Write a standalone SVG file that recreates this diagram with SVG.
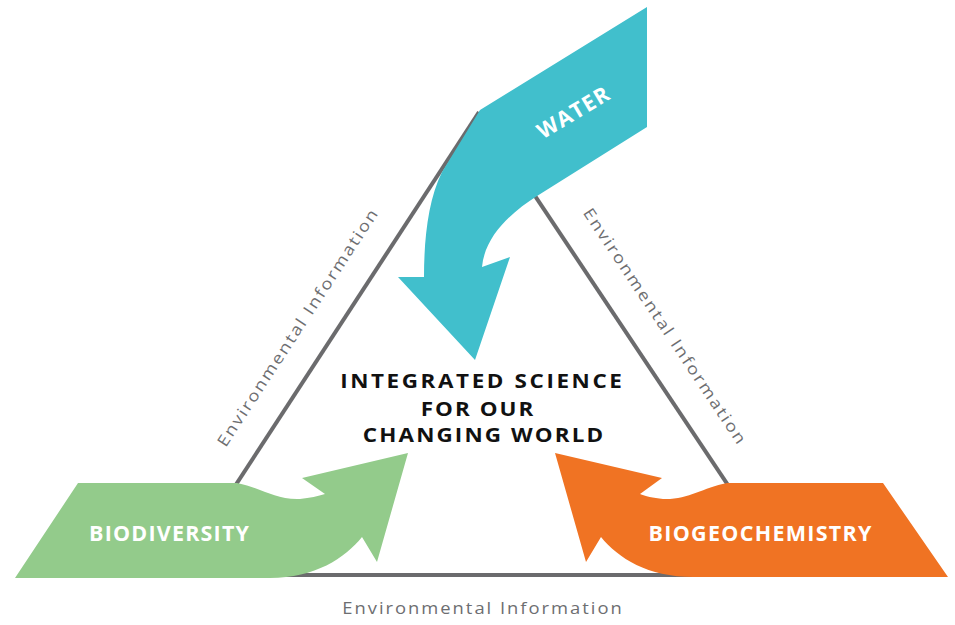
<svg xmlns="http://www.w3.org/2000/svg" width="955" height="625" viewBox="0 0 955 625">
  <style>
    .edge { stroke: #6b6b6d; stroke-width: 4; fill: none; stroke-linecap: butt; }
    .info { font-family: "Open Sans", "DejaVu Sans", sans-serif; font-size: 16px; fill: #6d6e71; }
    .label { font-family: "Open Sans", "DejaVu Sans", sans-serif; font-weight: bold; fill: #ffffff; }
    .title { font-family: "Open Sans", "DejaVu Sans", sans-serif; font-weight: bold; font-size: 19.5px; fill: #111111; }
  </style>
  <rect width="955" height="625" fill="#ffffff"/>

  <!-- triangle of environmental information links; labels are widened slightly -->
  <g id="connectors">
    <line class="edge" x1="177" y1="575" x2="479" y2="112"/>
    <line class="edge" x1="479" y1="112" x2="788" y2="575"/>
    <line class="edge" x1="177" y1="575" x2="788" y2="575"/>
    <text class="info" transform="translate(302,331) rotate(-56.9) scale(1.15,1)" text-anchor="middle" textLength="243" lengthAdjust="spacing">Environmental Information</text>
    <text class="info" transform="translate(660,329) rotate(56.3) scale(1.15,1)" text-anchor="middle" textLength="243" lengthAdjust="spacing">Environmental Information</text>
    <text class="info" transform="translate(482,614) scale(1.15,1)" text-anchor="middle" textLength="243" lengthAdjust="spacing">Environmental Information</text>
  </g>

  <!-- water arrow -->
  <g id="water">
    <path fill="#41bfcc" d="M647,7 L647,127 L537,196 C512,212 485,235 482,267 L510,257 L475,360 L398,277 L424,277 C424,240 428,200 442,172 L480,110 Z"/>
    <text class="label" font-size="21.5" text-anchor="middle" textLength="80" lengthAdjust="spacing" transform="translate(577,119) rotate(-31)">WATER</text>
  </g>

  <!-- biodiversity arrow -->
  <g id="biodiversity">
    <path fill="#93cb8b" d="M15,578 L78,483 L237,483 C262,488 275,500 300,499 C310,498 318,496 325,494 L302,478 L408,453 L377,562 L362,537 C345,558 315,578 270,578 Z"/>
    <text class="label" font-size="21.5" x="169" y="541" text-anchor="middle" textLength="160" lengthAdjust="spacing">BIODIVERSITY</text>
  </g>

  <!-- biogeochemistry arrow -->
  <g id="biogeochemistry">
    <path fill="#f07323" d="M948,577 L883,483 L727,483 C702,488 688,500 663,499 C653,498 645,496 640,494 L662,478 L555,453 L586,562 L601,537 C618,558 648,577 693,577 Z"/>
    <text class="label" font-size="21.5" x="760" y="541" text-anchor="middle" textLength="223" lengthAdjust="spacing">BIOGEOCHEMISTRY</text>
  </g>

  <!-- central statement, widened slightly -->
  <g id="center">
    <text class="title" transform="translate(481,388) scale(1.15,1)" text-anchor="middle" textLength="245" lengthAdjust="spacing">INTEGRATED SCIENCE</text>
    <text class="title" transform="translate(477,416) scale(1.15,1)" text-anchor="middle" textLength="98" lengthAdjust="spacing">FOR OUR</text>
    <text class="title" transform="translate(483,442) scale(1.15,1)" text-anchor="middle" textLength="209" lengthAdjust="spacing">CHANGING WORLD</text>
  </g>
</svg>
